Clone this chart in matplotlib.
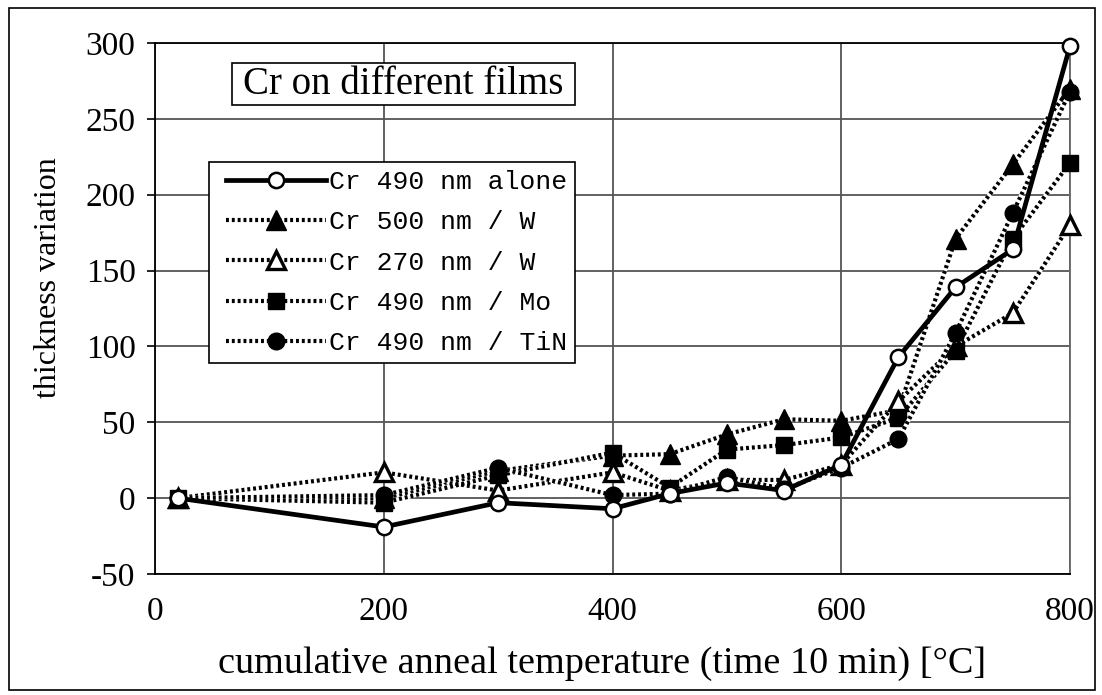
import matplotlib
matplotlib.use("Agg")
import matplotlib.pyplot as plt
from matplotlib.patches import Rectangle
from matplotlib.lines import Line2D
from matplotlib.legend_handler import HandlerLine2D

plt.rcParams["axes.unicode_minus"] = False

temps = [20, 200, 300, 400, 450, 500, 550, 600, 650, 700, 750, 800]
cr490_alone = [0, -19, -3, -7, 3, 10, 5, 22, 93, 139, 164, 298]
cr500_w = [0, 0, 18, 28, 29, 42, 52, 51, 58, 171, 220, 270]
cr270_w = [0, 17, 5, 17, 5, 12, 12, 22, 64, 100, 122, 180]
cr490_mo = [0, -3, 15, 30, 7, 32, 35, 40, 53, 97, 171, 221]
cr490_tin = [0, 2, 20, 2, 3, 14, 6, 20, 39, 109, 188, 268]

labels = ["Cr 490 nm alone", "Cr 500 nm / W", "Cr 270 nm / W",
          "Cr 490 nm / Mo", "Cr 490 nm / TiN"]
xticks = [0, 200, 400, 600, 800]
yticks = [-50, 0, 50, 100, 150, 200, 250, 300]

W, H = 1102, 695
fig = plt.figure(figsize=(W / 100, H / 100), dpi=100)
ax = fig.add_axes([155 / W, 1 - 574 / H, (1070 - 155) / W, (574 - 43) / H])

serif = "Liberation Serif"
mono = "Liberation Mono"

dotted = (0, (0.7, 0.7))
lwd = 3.0
ms = 12


def hatched(y, marker, mfc, size, mew=1.0, z=3):
    # white underlay + fine black dash pattern to mimic the checkered line
    ax.plot(temps, y, color="white", lw=lwd, zorder=z - 0.1, clip_on=False)
    h, = ax.plot(temps, y, color="black", lw=lwd, ls=dotted, marker=marker,
                 ms=size, mfc=mfc, mec="black", mew=mew, zorder=z,
                 clip_on=False)
    return h


h0, = ax.plot(temps, cr490_alone, color="black", lw=3.4, marker="o", ms=ms - 1,
              mfc="white", mec="black", mew=1.8, zorder=6, clip_on=False)
h1 = hatched(cr500_w, "^", "black", ms + 2, z=3)
h2 = hatched(cr270_w, "^", "white", ms + 1, mew=2.4, z=4)
h3 = hatched(cr490_mo, "s", "black", ms, z=4)
h4 = hatched(cr490_tin, "o", "black", ms, z=5)

ax.set_xlim(0, 800)
ax.set_ylim(-50, 300)
ax.set_xticks(xticks)
ax.set_yticks(yticks)
ax.grid(True, color="#555555", lw=1.3)
ax.set_axisbelow(True)
ax.spines["right"].set_color("#666666")
for s in ["top", "right", "left", "bottom"]:
    ax.spines[s].set_linewidth(1.3)
ax.tick_params(axis="y", direction="out", length=6, width=1.2, pad=8,
               labelsize=24)
ax.tick_params(axis="x", length=0, pad=16, labelsize=24)
for lab in ax.get_xticklabels() + ax.get_yticklabels():
    lab.set_fontfamily(serif)

ax.set_xlabel("cumulative anneal temperature (time 10 min) [°C]",
              fontfamily=serif, fontsize=27.5, labelpad=14)
ax.xaxis.label.set_x(0.4885)
ax.set_ylabel("thickness variation", fontfamily=serif, fontsize=23,
              labelpad=16)
ax.yaxis.label.set_y(0.559)

# title box
fig.patches.append(Rectangle((232 / W, 1 - 105 / H), (575 - 232) / W, 42 / H,
                             transform=fig.transFigure, fill=True, fc="white",
                             ec="black", lw=1.2, zorder=7))
fig.text(403 / W, 1 - 85 / H, "Cr on different films", fontfamily=serif,
         fontsize=28, ha="center", va="center", zorder=8)

leg = ax.legend([h0, h1, h2, h3, h4], labels,
                prop={"family": mono, "size": 19},
                loc="upper left", bbox_to_anchor=(209 / W, 1 - 162 / H),
                bbox_transform=fig.transFigure,
                handler_map={Line2D: HandlerLine2D(xpad=0.35)},
                frameon=True, fancybox=False, edgecolor="black",
                framealpha=1, handlelength=4.15, handletextpad=0.1,
                labelspacing=0.62, borderpad=0.3, borderaxespad=0)
leg.get_frame().set_linewidth(1.2)
leg.set_zorder(10)

fig.patches.append(Rectangle((9 / W, 5 / H), (1095 - 9) / W, (687 - 5) / H,
                             transform=fig.transFigure, fill=False,
                             ec="black", lw=1.2))

fig.savefig("out.png", dpi=100)
